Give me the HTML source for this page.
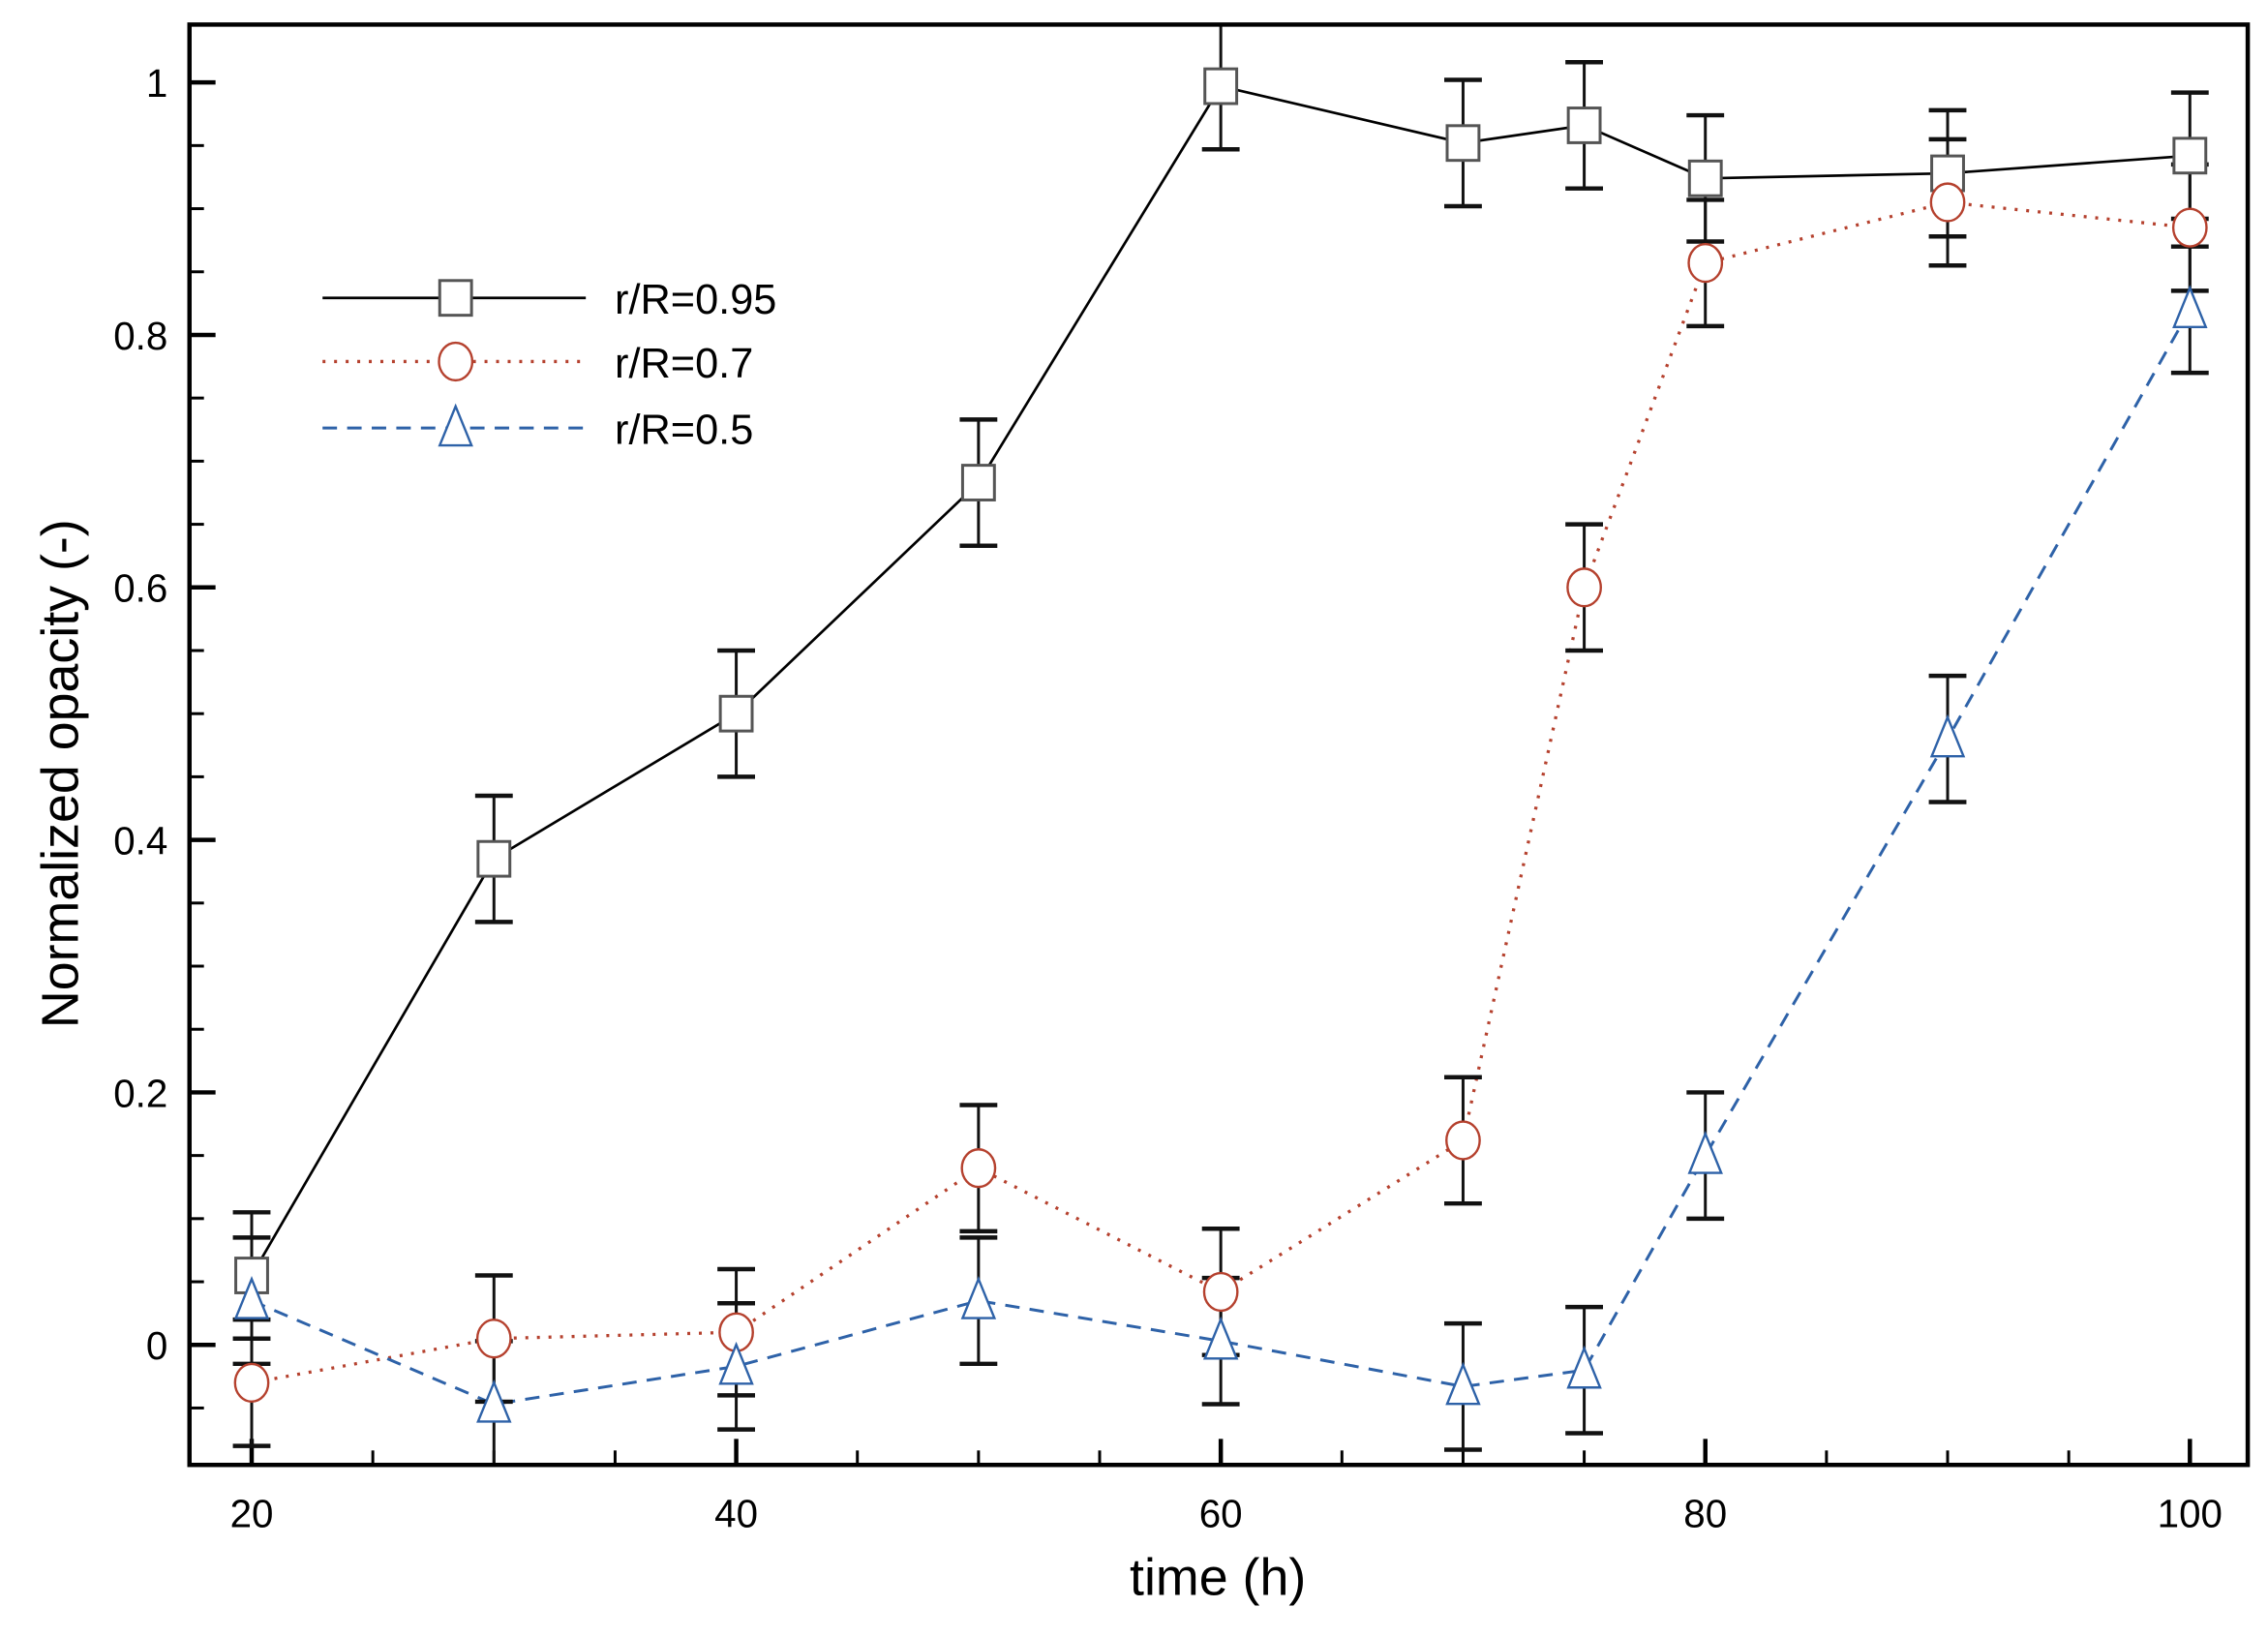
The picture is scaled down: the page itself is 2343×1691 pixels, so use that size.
<!DOCTYPE html>
<html><head><meta charset="utf-8"><style>
html,body{margin:0;padding:0;background:#fff;}
svg{display:block;}
text{font-family:"Liberation Sans",Arial,sans-serif;fill:#000;}
</style></head><body>
<svg id="s" width="2343" height="1691" viewBox="0 0 1568 1132" preserveAspectRatio="none" xmlns="http://www.w3.org/2000/svg">
<defs><clipPath id="c"><rect x="131" y="17" width="1423" height="996"/></clipPath></defs>
<rect x="0" y="0" width="1568" height="1132" fill="#fff"/>
<g id="ticks" stroke="#000"></g>
<g id="plot" clip-path="url(#c)"></g>
<rect x="131" y="17" width="1423" height="996" fill="none" stroke="#000" stroke-width="3"/>
<g id="labels" font-size="27"></g>
<text x="842" y="1103" font-size="36" text-anchor="middle">time (h)</text>
<text transform="translate(54,535) rotate(-90)" font-size="36" text-anchor="middle">Normalized opacity (-)</text>
<g id="legend"></g>
</svg>
<script>
var NS="http://www.w3.org/2000/svg";
function el(p,t,a){var e=document.createElementNS(NS,t);for(var k in a)e.setAttribute(k,a[k]);p.appendChild(e);return e;}
function X(t){return 174+(t-20)*16.75;}
function Y(v){return 930-873*v;}
var T=document.getElementById('ticks'),P=document.getElementById('plot'),L=document.getElementById('labels'),G=document.getElementById('legend');
for(var i=-1;i<=20;i++){var v=i*0.05,maj=(i%4==0);el(T,'line',{x1:131,x2:131+(maj?18:10),y1:Y(v),y2:Y(v),'stroke-width':maj?3:2});
 if(maj&&i>=0){var t=el(L,'text',{x:116,y:Y(v)+10,'text-anchor':'end'});t.textContent=(i==0?'0':(i==20?'1':v.toFixed(1)));}}
for(var tt=20;tt<=100;tt+=5){var maj=(tt%20==0);el(T,'line',{x1:X(tt),x2:X(tt),y1:1013,y2:1013-(maj?18:10),'stroke-width':maj?3:2});
 if(maj){var t=el(L,'text',{x:X(tt),y:1056,'text-anchor':'middle'});t.textContent=tt;}}
var ts=[20,30,40,50,60,70,75,80,90,100];
var S=[
 {c:'#000',d:'',w:1.8,m:'sq',v:[.055,.385,.5,.683,.997,.952,.966,.924,.928,.942],mc:'#555'},
 {c:'#b5412e',d:'2 6',w:2.2,m:'ci',v:[-.03,.005,.01,.14,.042,.162,.6,.857,.905,.885],mc:'#b5412e'},
 {c:'#2e62a8',d:'10 7',w:2,m:'tr',v:[.035,-.047,-.017,.035,.003,-.033,-.02,.15,.48,.82],mc:'#2e62a8'}];
function marker(p,m,x,y,col){
 if(m=='sq')el(p,'rect',{x:x-11,y:y-12,width:22,height:24,fill:'#fff',stroke:col,'stroke-width':2});
 else if(m=='ci')el(p,'ellipse',{cx:x,cy:y,rx:11.5,ry:13,fill:'#fff',stroke:col,'stroke-width':1.6});
 else el(p,'polygon',{points:(x)+','+(y-15)+' '+(x-11)+','+(y+12)+' '+(x+11)+','+(y+12),fill:'#fff',stroke:col,'stroke-width':1.6});
}
S.forEach(function(s){
 var pts=ts.map(function(t,i){return X(t)+','+Y(s.v[i]);}).join(' ');
 el(P,'polyline',{points:pts,fill:'none',stroke:s.c,'stroke-width':s.w,'stroke-dasharray':s.d});
});
S.forEach(function(s){ts.forEach(function(t,i){var x=X(t),y=Y(s.v[i]);
 el(P,'line',{x1:x,x2:x,y1:y-43.65,y2:y+43.65,stroke:'#111','stroke-width':2});
 el(P,'line',{x1:x-13,x2:x+13,y1:y-43.65,y2:y-43.65,stroke:'#111','stroke-width':3});
 el(P,'line',{x1:x-13,x2:x+13,y1:y+43.65,y2:y+43.65,stroke:'#111','stroke-width':3});
});});
S.forEach(function(s){ts.forEach(function(t,i){marker(P,s.m,X(t),Y(s.v[i]),s.mc);});});
var ly=[206,250,296],lab=['r/R=0.95','r/R=0.7','r/R=0.5'];
S.forEach(function(s,i){el(G,'line',{x1:223,x2:405,y1:ly[i],y2:ly[i],stroke:s.c,'stroke-width':s.w,'stroke-dasharray':s.d});
 marker(G,s.m,315,ly[i],s.mc);var t=el(G,'text',{x:425,y:ly[i]+11,'font-size':29});t.textContent=lab[i];});
</script>
</body></html>
